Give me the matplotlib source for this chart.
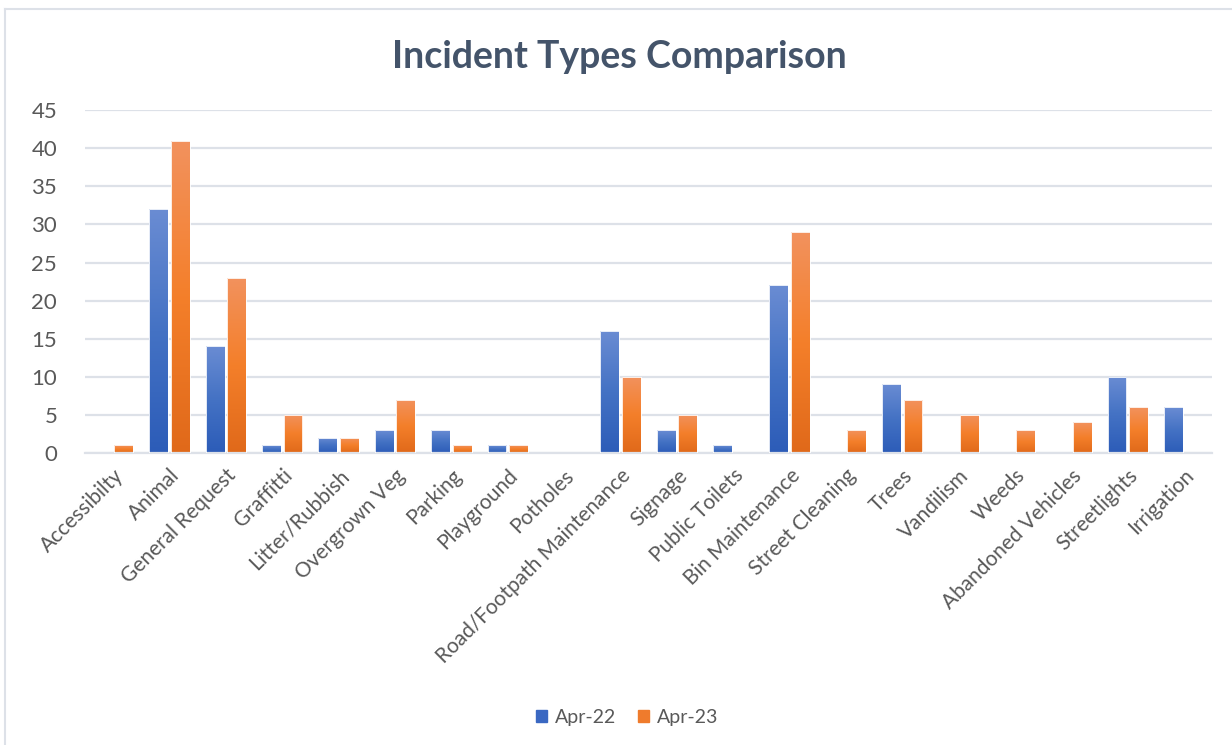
import numpy as np
from matplotlib import pyplot as plt
from matplotlib.colors import LinearSegmentedColormap
from matplotlib.lines import Line2D
from matplotlib.patches import Patch

categories = ["Accessibilty", "Animal", "General Request", "Graffitti", "Litter/Rubbish",
              "Overgrown Veg", "Parking", "Playground", "Potholes",
              "Road/Footpath Maintenance", "Signage", "Public Toilets", "Bin Maintenance",
              "Street Cleaning", "Trees", "Vandilism", "Weeds", "Abandoned Vehicles",
              "Streetlights", "Irrigation"]
apr22 = [0, 32, 14, 1, 2, 3, 3, 1, 0, 16, 3, 1, 22, 0, 9, 0, 0, 0, 10, 6]
apr23 = [1, 41, 23, 5, 2, 7, 1, 1, 0, 10, 5, 0, 29, 3, 7, 5, 3, 4, 6, 0]
series_names = ["Apr-22", "Apr-23"]
yticks = [0, 5, 10, 15, 20, 25, 30, 35, 40, 45]

plt.rcParams['font.family'] = ['Lato', 'DejaVu Sans']

blue_cm = LinearSegmentedColormap.from_list("b", ["#2c5cb8", "#4472c4", "#6a8cd3"])
orange_cm = LinearSegmentedColormap.from_list("o", ["#e0691a", "#f47f2a", "#f2925e"])
text_col = "#595959"

fig = plt.figure(figsize=(12.32, 7.45), dpi=100)
ax = fig.add_axes([0.069, 0.392, 0.915, 0.460])

x = np.arange(len(categories))
w = 0.335
off = 0.19
b1 = ax.bar(x - off, apr22, w, color="#4472c4", edgecolor="white", linewidth=0.6, zorder=2)
b2 = ax.bar(x + off, apr23, w, color="#ed7d31", edgecolor="white", linewidth=0.6, zorder=2)

# vertical gradient inside each bar, like the Excel fill
grad = np.linspace(0, 1, 256).reshape(-1, 1)
for bars, cm in ((b1, blue_cm), (b2, orange_cm)):
    for p in bars:
        h = p.get_height()
        if h <= 0:
            continue
        x0 = p.get_x()
        im = ax.imshow(grad, cmap=cm, origin="lower", aspect="auto",
                       extent=[x0, x0 + p.get_width(), 0, h], zorder=2.5)
        im.set_clip_path(p)
        # thin white outline on top
        p.set_facecolor("none")
        p.set_zorder(3)

ax.set_xlim(-0.5, len(categories) - 0.5)
ax.set_ylim(0, 45)
ax.set_yticks(yticks)
ax.yaxis.grid(True, color="#dde1e8", linewidth=1.6, zorder=0)
ax.set_axisbelow(True)
for s in ["top", "right", "left"]:
    ax.spines[s].set_visible(False)
ax.spines["bottom"].set_color("#dde1e8")
ax.spines["bottom"].set_linewidth(1.6)
ax.tick_params(axis="both", length=0, colors=text_col)
ax.tick_params(axis="y", labelsize=16, pad=20)
ax.set_xticks(x)
ax.set_xticklabels(categories, rotation=45, ha="right", va="top",
                   rotation_mode="anchor", fontsize=15, color=text_col)
ax.tick_params(axis="x", pad=9)

fig.text(0.503, 0.924, "Incident Types Comparison", ha="center", va="center",
         fontsize=27, fontweight="bold", color="#44546a")

handles = [Patch(color="#3a68c2"), Patch(color="#ef7b2c")]
fig.legend(handles, series_names, loc="center", bbox_to_anchor=(0.509, 0.037),
           ncol=2, frameon=False, fontsize=14, handlelength=0.6, handleheight=0.6,
           handletextpad=0.4, columnspacing=1.1, labelcolor=text_col)

# outer chart border (top and left visible)
fig.add_artist(Line2D([5 / 1232, 1.0], [1 - 9 / 745, 1 - 9 / 745],
                      transform=fig.transFigure, color="#dde1e8", linewidth=1.5))
fig.add_artist(Line2D([5 / 1232, 5 / 1232], [0, 1 - 9 / 745],
                      transform=fig.transFigure, color="#dde1e8", linewidth=1.5))

fig.savefig("out.png", dpi=100)
